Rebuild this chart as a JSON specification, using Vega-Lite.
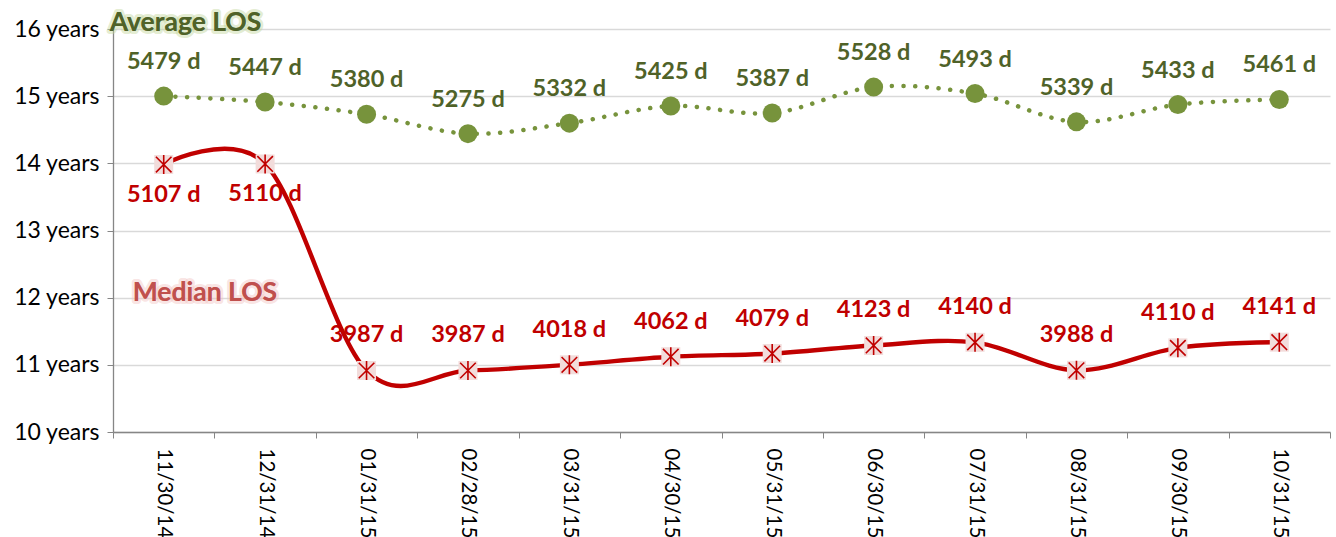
{
  "$schema": "https://vega.github.io/schema/vega-lite/v6.json",
  "width": 1217,
  "height": 403,
  "autosize": {"type": "none"},
  "padding": {"left": 113, "top": 29, "right": 6, "bottom": 105},
  "background": "white",
  "config": {
    "view": {"stroke": null},
    "font": "Lato",
    "axis": {"labelFont": "Lato", "titleFont": "Lato"}
  },
  "data": {
    "values": [
      {"date": "11/30/14", "avg": 5479, "med": 5107},
      {"date": "12/31/14", "avg": 5447, "med": 5110},
      {"date": "01/31/15", "avg": 5380, "med": 3987},
      {"date": "02/28/15", "avg": 5275, "med": 3987},
      {"date": "03/31/15", "avg": 5332, "med": 4018},
      {"date": "04/30/15", "avg": 5425, "med": 4062},
      {"date": "05/31/15", "avg": 5387, "med": 4079},
      {"date": "06/30/15", "avg": 5528, "med": 4123},
      {"date": "07/31/15", "avg": 5493, "med": 4140},
      {"date": "08/31/15", "avg": 5339, "med": 3988},
      {"date": "09/30/15", "avg": 5433, "med": 4110},
      {"date": "10/31/15", "avg": 5461, "med": 4141}
    ]
  },
  "encoding": {
    "x": {
      "field": "date",
      "type": "ordinal",
      "sort": null,
      "bandPosition": 0.5,
      "scale": {"type": "band", "paddingInner": 0, "paddingOuter": 0},
      "axis": {
        "title": null,
        "labelAngle": 90,
        "labelAlign": "left",
        "labelBaseline": "middle",
        "labelFontSize": 20.5,
        "labelColor": "#000000",
        "labelPadding": 10,
        "tickBand": "extent",
        "tickSize": 6,
        "tickColor": "#868686",
        "domainColor": "#868686",
        "domainWidth": 1.3,
        "grid": false
      }
    }
  },
  "layer": [
    {
      "mark": {"type": "line", "interpolate": "cardinal", "color": "#77933c", "strokeWidth": 4.5, "strokeDash": [0.1, 11.6], "strokeCap": "round"},
      "encoding": {
        "y": {
          "field": "avg",
          "type": "quantitative",
          "scale": {"domain": [3652.5, 5844], "nice": false, "zero": false},
          "axis": {
            "title": null,
            "values": [3652.5, 4017.75, 4383, 4748.25, 5113.5, 5478.75, 5844],
            "labelExpr": "round(datum.value / 365.25) + ' years'",
            "labelFontSize": 23,
            "labelColor": "#000000",
            "labelPadding": 8,
            "tickSize": 6,
            "tickColor": "#868686",
            "domainColor": "#868686",
            "domainWidth": 1.3,
            "gridColor": "#d9d9d9",
            "gridWidth": 1.3
          }
        }
      }
    },
    {
      "mark": {"type": "point", "shape": "circle", "filled": true, "size": 361, "color": "#77933c", "opacity": 1},
      "encoding": {"y": {"field": "avg", "type": "quantitative"}}
    },
    {
      "transform": [{"calculate": "datum.avg + ' d'", "as": "lbl"}],
      "mark": {"type": "text", "font": "Lato", "fontWeight": "bold", "fontSize": 23.5, "color": "#4f6228", "baseline": "alphabetic", "align": "center", "dy": -27},
      "encoding": {"y": {"field": "avg", "type": "quantitative"}, "text": {"field": "lbl"}}
    },
    {
      "mark": {"type": "line", "interpolate": "cardinal", "color": "#c00000", "strokeWidth": 4.4},
      "encoding": {"y": {"field": "med", "type": "quantitative"}}
    },
    {
      "mark": {"type": "point", "shape": "square", "filled": true, "size": 361, "color": "#f2dcdb", "opacity": 1},
      "encoding": {"y": {"field": "med", "type": "quantitative"}}
    },
    {
      "mark": {"type": "point", "shape": "M-0.82,-0.82L0.82,0.82M-0.82,0.82L0.82,-0.82M0,-1L0,1", "filled": false, "size": 361, "stroke": "#c00000", "strokeWidth": 1.6, "opacity": 1},
      "encoding": {"y": {"field": "med", "type": "quantitative"}}
    },
    {
      "transform": [
        {"filter": "datum.date != '11/30/14' && datum.date != '12/31/14'"},
        {"calculate": "datum.med + ' d'", "as": "lbl"}
      ],
      "mark": {"type": "text", "font": "Lato", "fontWeight": "bold", "fontSize": 23.5, "color": "#c00000", "baseline": "alphabetic", "align": "center", "dy": -28},
      "encoding": {"y": {"field": "med", "type": "quantitative"}, "text": {"field": "lbl"}}
    },
    {
      "transform": [
        {"filter": "datum.date == '11/30/14' || datum.date == '12/31/14'"},
        {"calculate": "datum.med + ' d'", "as": "lbl"}
      ],
      "mark": {"type": "text", "font": "Lato", "fontWeight": "bold", "fontSize": 23.5, "color": "#c00000", "baseline": "alphabetic", "align": "center", "dy": 37},
      "encoding": {"y": {"field": "med", "type": "quantitative"}, "text": {"field": "lbl"}}
    },
    {
      "data": {"values": [{"date": "11/30/14", "v": 5844, "name": "Average LOS"}]},
      "mark": {"type": "text", "font": "Lato", "fontWeight": "bold", "fontSize": 26.5, "align": "left", "baseline": "alphabetic", "dx": -54, "dy": 2, "fill": "#4f6228", "stroke": "#c3d69b", "strokeWidth": 6, "strokeOpacity": 0.45, "strokeJoin": "round", "clip": false},
      "encoding": {"y": {"field": "v", "type": "quantitative"}, "text": {"field": "name"}}
    },
    {
      "data": {"values": [{"date": "11/30/14", "v": 5844, "name": "Average LOS"}]},
      "mark": {"type": "text", "font": "Lato", "fontWeight": "bold", "fontSize": 26.5, "align": "left", "baseline": "alphabetic", "dx": -54, "dy": 2, "color": "#4f6228", "clip": false},
      "encoding": {"y": {"field": "v", "type": "quantitative"}, "text": {"field": "name"}}
    },
    {
      "data": {"values": [{"date": "11/30/14", "v": 4383, "name": "Median LOS"}]},
      "mark": {"type": "text", "font": "Lato", "fontWeight": "bold", "fontSize": 26.5, "align": "left", "baseline": "alphabetic", "dx": -31, "dy": 3, "fill": "#c0504d", "stroke": "#f2c4c3", "strokeWidth": 6, "strokeOpacity": 0.45, "strokeJoin": "round"},
      "encoding": {"y": {"field": "v", "type": "quantitative"}, "text": {"field": "name"}}
    },
    {
      "data": {"values": [{"date": "11/30/14", "v": 4383, "name": "Median LOS"}]},
      "mark": {"type": "text", "font": "Lato", "fontWeight": "bold", "fontSize": 26.5, "align": "left", "baseline": "alphabetic", "dx": -31, "dy": 3, "color": "#c0504d"},
      "encoding": {"y": {"field": "v", "type": "quantitative"}, "text": {"field": "name"}}
    }
  ]
}
